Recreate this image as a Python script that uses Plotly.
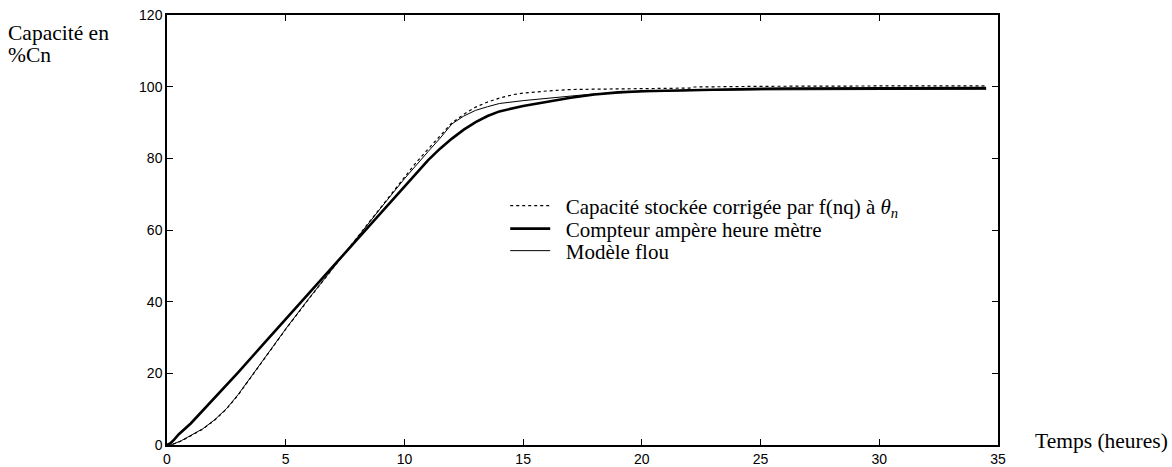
import plotly.graph_objects as go

# Compteur ampère heure mètre (thick line)
x_compteur = [0, 0.15, 0.3, 0.5, 1, 2, 3, 4, 5, 6, 7, 8, 9, 10, 10.5, 11, 11.5, 12, 12.5,
              13, 13.5, 14, 15, 16, 17, 18, 19, 20, 22, 24, 26, 30, 34.5]
y_compteur = [0, 0.5, 1.5, 3.0, 6.0, 13.0, 20.3, 27.7, 35.1, 42.5, 50.0, 57.4, 64.8, 72.3, 76.0,
              79.5, 82.7, 85.5, 88.0, 90.1, 91.8, 93.1, 94.6, 95.8, 96.9, 97.8, 98.4, 98.7,
              99.1, 99.3, 99.5, 99.6, 99.6]

# Capacité stockée corrigée (dotted line)
x_corrigee = [0, 0.2, 0.6, 1, 1.5, 2, 2.5, 3, 3.5, 4, 5, 6, 7, 8, 9, 10, 10.5, 11, 11.5, 12,
              12.5, 13, 13.5, 14, 14.6, 15, 16, 17, 18, 20, 22, 22.2, 25, 30, 34.5]
y_corrigee = [0, 0.1, 1.1, 2.5, 4.4, 6.9, 10.0, 14.0, 18.6, 23.3, 32.3, 41.0, 49.4, 57.8, 66.2,
              74.8, 78.9, 82.6, 86.4, 89.9, 92.3, 94.3, 95.7, 96.8, 97.8, 98.2, 98.8, 99.2,
              99.3, 99.5, 99.6, 99.9, 100.1, 100.2, 100.2]

# Modèle flou (thin line)
x_flou = [0, 0.2, 0.6, 1, 1.5, 2, 2.5, 3, 3.5, 4, 5, 6, 7, 8, 9, 10, 10.5, 11, 11.5, 12, 12.5,
          13, 13.5, 14, 15, 16, 17, 18, 19, 20, 22, 25, 30, 34.5]
y_flou = [0, 0.1, 1.2, 2.6, 4.5, 7.0, 10.1, 14.1, 18.7, 23.4, 32.4, 41.1, 49.5, 57.9, 66.1,
          74.3, 78.2, 81.9, 85.6, 89.6, 91.8, 93.4, 94.4, 95.3, 96.1, 96.8, 97.5, 98.0, 98.3,
          98.6, 98.9, 99.1, 99.2, 99.3]

x_ticks = [0, 5, 10, 15, 20, 25, 30, 35]
y_ticks = [0, 20, 40, 60, 80, 100, 120]

serif = "Liberation Serif"
sans = "Liberation Sans"
pad = "\u00a0\u00a0"

fig = go.Figure()
fig.add_trace(go.Scatter(x=x_corrigee, y=y_corrigee, mode="lines",
                         line=dict(color="black", width=1.2, dash="dot"),
                         name=pad + "Capacité stockée corrigée par f(nq) à <i>θ<sub>n</sub></i>",
                         legend="legend", showlegend=True))
fig.add_trace(go.Scatter(x=x_compteur, y=y_compteur, mode="lines",
                         line=dict(color="black", width=2.6),
                         name=pad + "Compteur ampère heure mètre", legend="legend2",
                         showlegend=True))
fig.add_trace(go.Scatter(x=x_flou, y=y_flou, mode="lines",
                         line=dict(color="black", width=1),
                         name=pad + "Modèle flou", legend="legend3", showlegend=True))

axis_common = dict(showline=True, linecolor="black", linewidth=1.5, mirror="ticks",
                   ticks="inside", ticklen=6, tickcolor="black", tickwidth=1,
                   showgrid=False, zeroline=False, automargin=False,
                   ticklabeloverflow="allow",
                   tickfont=dict(family=sans, size=14, color="black"))

fig.update_xaxes(range=[0, 35], tickvals=x_ticks, ticktext=[str(v) for v in x_ticks], **axis_common)
fig.update_yaxes(range=[0, 120], tickvals=y_ticks, ticktext=[str(v) for v in y_ticks], **axis_common)

leg_common = dict(xanchor="left", yanchor="middle", bgcolor="rgba(0,0,0,0)",
                  font=dict(family=serif, size=21, color="black"), itemwidth=40)
LX = 0.407
title_font = dict(family=serif, size=21.5, color="black")
fig.update_layout(
    width=1172, height=467,
    margin=dict(l=167, r=174, t=15, b=22),
    showlegend=True, hovermode=False,
    plot_bgcolor="white", paper_bgcolor="white",
    legend=dict(x=LX, y=(445 - 206) / 430, **leg_common),
    legend2=dict(x=LX, y=(445 - 229) / 430, **leg_common),
    legend3=dict(x=LX, y=(445 - 251) / 430, **leg_common),
    annotations=[
        dict(text="Capacité en", xref="paper", yref="paper", x=0, y=1,
             xshift=-161, yshift=-18, xanchor="left", yanchor="middle", align="left",
             showarrow=False, font=title_font),
        dict(text="%Cn", xref="paper", yref="paper", x=0, y=1,
             xshift=-161, yshift=-40, xanchor="left", yanchor="middle", align="left",
             showarrow=False, font=title_font),
        dict(text="Temps (heures)", xref="paper", yref="paper", x=1, y=0,
             xshift=35, yshift=4, xanchor="left", yanchor="middle", align="left",
             showarrow=False, font=title_font),
    ],
)

fig.write_html("out.html", config={"displayModeBar": False},
               post_script="document.body.style.margin='0';document.body.style.overflow='hidden';")
